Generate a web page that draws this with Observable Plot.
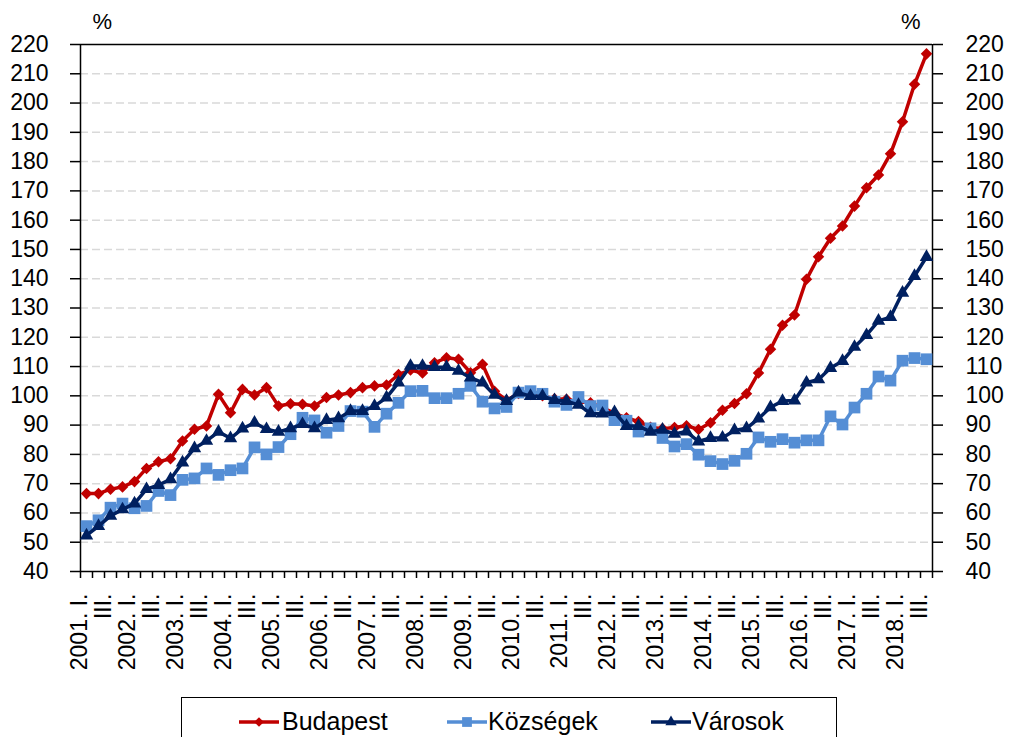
<!DOCTYPE html>
<html>
<head>
<meta charset="utf-8">
<script src="https://cdn.jsdelivr.net/npm/d3@7"></script>
<script src="https://cdn.jsdelivr.net/npm/@observablehq/plot@0.6"></script>
<style>
  body { margin: 0; background: #fff; }
  #wrap { position: relative; width: 1009px; height: 737px; overflow: hidden; background: #fff; font-family: "Liberation Sans", Arial, sans-serif; }
  #legend { position: absolute; left: 181px; top: 697px; width: 656px; height: 70px; border: 1px solid #000; box-sizing: border-box; }
  .item { position: absolute; top: 0; height: 48px; }
  .item svg { position: absolute; top: 14px; }
</style>
</head>
<body>
<div id="wrap">
  <div id="chart"></div>
  <div id="legend"></div>
</div>
<script>
// Categories
const years = [2001,2002,2003,2004,2005,2006,2007,2008,2009,2010,2011,2012,2013,2014,2015,2016,2017,2018];
const quarters = ["I.", "II.", "III.", "IV."];
const nPeriods = 71; // 2001 I. – 2018 III.

// Series values (%)
const budapest = [
  66.6, 66.6, 68.1, 68.9, 70.7, 75.2, 77.5, 78.5, 84.6, 88.6,
  89.7, 100.5, 94.2, 102.2, 100.3, 102.8, 96.5, 97.3, 97.1, 96.5,
  99.4, 100.3, 101.1, 102.8, 103.4, 103.7, 107.3, 108.8, 107.8, 111.3,
  113.0, 112.5, 107.9, 110.8, 101.6, 98.5, 100.8, 100.5, 100.0, 99.0,
  98.8, 98.0, 97.6, 96.0, 94.0, 92.5, 91.2, 89.3, 88.8, 89.2,
  89.8, 88.5, 90.8, 95.1, 97.4, 100.7, 107.8, 115.9, 124.1, 127.6,
  139.8, 147.5, 153.8, 158.0, 164.8, 171.1, 175.4, 182.7, 193.6, 206.4,
  216.8
];
const kozsegek = [
  55.5, 57.5, 61.8, 63.2, 61.6, 62.4, 67.5, 66.1, 71.3, 71.8,
  75.2, 73.0, 74.6, 75.2, 82.4, 80.0, 82.5, 86.9, 92.5, 91.6,
  87.4, 89.7, 94.8, 94.6, 89.4, 93.9, 97.6, 101.6, 101.7, 99.2,
  99.2, 100.7, 103.4, 98.0, 95.7, 96.2, 101.1, 101.6, 100.7, 98.0,
  96.9, 99.6, 96.5, 96.7, 91.7, 91.5, 87.8, 88.9, 85.6, 82.7,
  83.5, 79.9, 77.7, 76.7, 77.8, 80.2, 85.8, 84.3, 85.2, 84.0,
  84.8, 84.8, 93.0, 90.2, 96.0, 100.7, 106.6, 105.2, 112.0, 112.9,
  112.5
];
const varosok = [
  52.3, 55.5, 59.0, 61.2, 63.2, 68.1, 69.5, 71.5, 77.2, 82.1,
  84.6, 87.7, 85.5, 88.8, 90.8, 88.6, 87.7, 88.9, 90.3, 88.9,
  91.7, 92.3, 94.8, 94.8, 96.5, 99.4, 104.5, 110.2, 110.2, 109.8,
  109.8, 108.5, 106.2, 104.5, 100.3, 98.2, 101.1, 99.9, 99.9, 98.5,
  98.2, 96.9, 94.0, 93.9, 94.4, 89.7, 89.7, 87.7, 88.4, 87.0,
  87.8, 84.4, 85.6, 85.7, 88.2, 88.9, 92.2, 96.1, 98.2, 98.4,
  104.5, 105.6, 109.5, 111.9, 116.7, 120.7, 125.6, 126.9, 135.2, 140.9,
  147.4
];

// Tick values
const yTicks = [40,50,60,70,80,90,100,110,120,130,140,150,160,170,180,190,200,210,220];
const gridTicks = [50,60,70,80,90,100,110,120,130,140,150,160,170,180,190,200,210];

const seriesNames = ["Budapest", "Községek", "Városok"];
const seriesColors = ["#C00000", "#558ED5", "#002060"];
const seriesSymbols = ["diamond2", "square", "triangle"];
const seriesR = [5.2, 6.6, 5.0];

// Period labels
const periods = [];
for (const y of years) for (const q of quarters) periods.push({y, q});
periods.length = nPeriods;
const xLabels = periods.map((p, i) => ({i, label: p.q === "I." ? `${p.y}. I.` : p.q === "III." ? "III." : null}))
  .filter(d => d.label !== null);
const bounds = d3.range(nPeriods + 1).map(k => k - 0.5);

const seriesData = [budapest, kozsegek, varosok].map(arr => arr.map((v, i) => ({i, v})));

const font = "'Liberation Sans', Arial, sans-serif";

const seriesMarks = seriesData.flatMap((data, s) => [
  Plot.line(data, {x: "i", y: "v", stroke: seriesColors[s], strokeWidth: 3.5, strokeLinejoin: "round"}),
  Plot.dot(data, {x: "i", y: "v", symbol: seriesSymbols[s], r: seriesR[s], fill: seriesColors[s], stroke: "none"})
]);

const chart = Plot.plot({
  width: 1009,
  height: 695,
  marginLeft: 80,
  marginRight: 77,
  marginTop: 44,
  marginBottom: 124,
  x: {type: "linear", domain: [-0.5, nPeriods - 0.5]},
  y: {domain: [40, 220]},
  style: {fontFamily: font, fontSize: "23px", color: "#000", background: "#fff", overflow: "visible"},
  marks: [
    Plot.gridY({ticks: gridTicks, stroke: "#d9d9d9", strokeOpacity: 1, strokeWidth: 1.5, strokeDasharray: "8,4"}),
    Plot.ruleY([220], {stroke: "#000", strokeWidth: 1.5}),
    Plot.ruleY([40], {stroke: "#000", strokeWidth: 1.5}),
    Plot.ruleX([-0.5, nPeriods - 0.5], {stroke: "#000", strokeWidth: 1.5}),
    Plot.axisY({anchor: "left", ticks: yTicks, tickSize: 10, tickPadding: 22, label: null, strokeWidth: 1.5, fontSize: 23}),
    Plot.axisY({anchor: "right", ticks: yTicks, tickSize: 10, tickPadding: 23, label: null, strokeWidth: 1.5, fontSize: 23}),
    Plot.axisX({ticks: bounds, tickSize: 7, tickFormat: () => "", label: null, strokeWidth: 1.5}),
    Plot.text(xLabels, {x: "i", text: "label", frameAnchor: "bottom", rotate: -90, textAnchor: "end", dy: 22, fontSize: 23, fill: "#000"}),
    Plot.text(["%"], {frameAnchor: "top-left", dx: 12, dy: -31, fontSize: 22, fill: "#000"}),
    Plot.text(["%"], {frameAnchor: "top-right", dx: -12, dy: -31, fontSize: 22, fill: "#000"}),
    ...seriesMarks
  ]
});
document.getElementById("chart").appendChild(chart);

// Legend
const legend = document.getElementById("legend");
const sampleLeft = [57, 265, 469];
const textLeft = [100, 306, 510];
seriesNames.forEach((name, s) => {
  const item = document.createElement("div");
  item.className = "item";
  item.style.left = sampleLeft[s] + "px";
  const sym = {"diamond2": d3.symbolDiamond2, "square": d3.symbolSquare, "triangle": d3.symbolTriangle}[seriesSymbols[s]];
  const size = Math.PI * seriesR[s] * seriesR[s] * 0.7;
  const path = d3.symbol(sym, size)();
  item.innerHTML = `<svg width="40" height="20" style="left:0"><line x1="0" x2="40" y1="10" y2="10" stroke="${seriesColors[s]}" stroke-width="3.5"/><path d="${path}" transform="translate(20,10)" fill="${seriesColors[s]}"/></svg>`;
  legend.appendChild(item);
  const span = document.createElement("span");
  span.style.left = textLeft[s] + "px";
  span.style.position = "absolute";
  span.style.top = "10px";
  span.style.fontSize = "25px";
  span.style.lineHeight = "26px";
  span.style.height = "26px";
  span.style.whiteSpace = "nowrap";
  span.style.color = "#000";
  span.textContent = name;
  legend.appendChild(span);
});
</script>
</body>
</html>
